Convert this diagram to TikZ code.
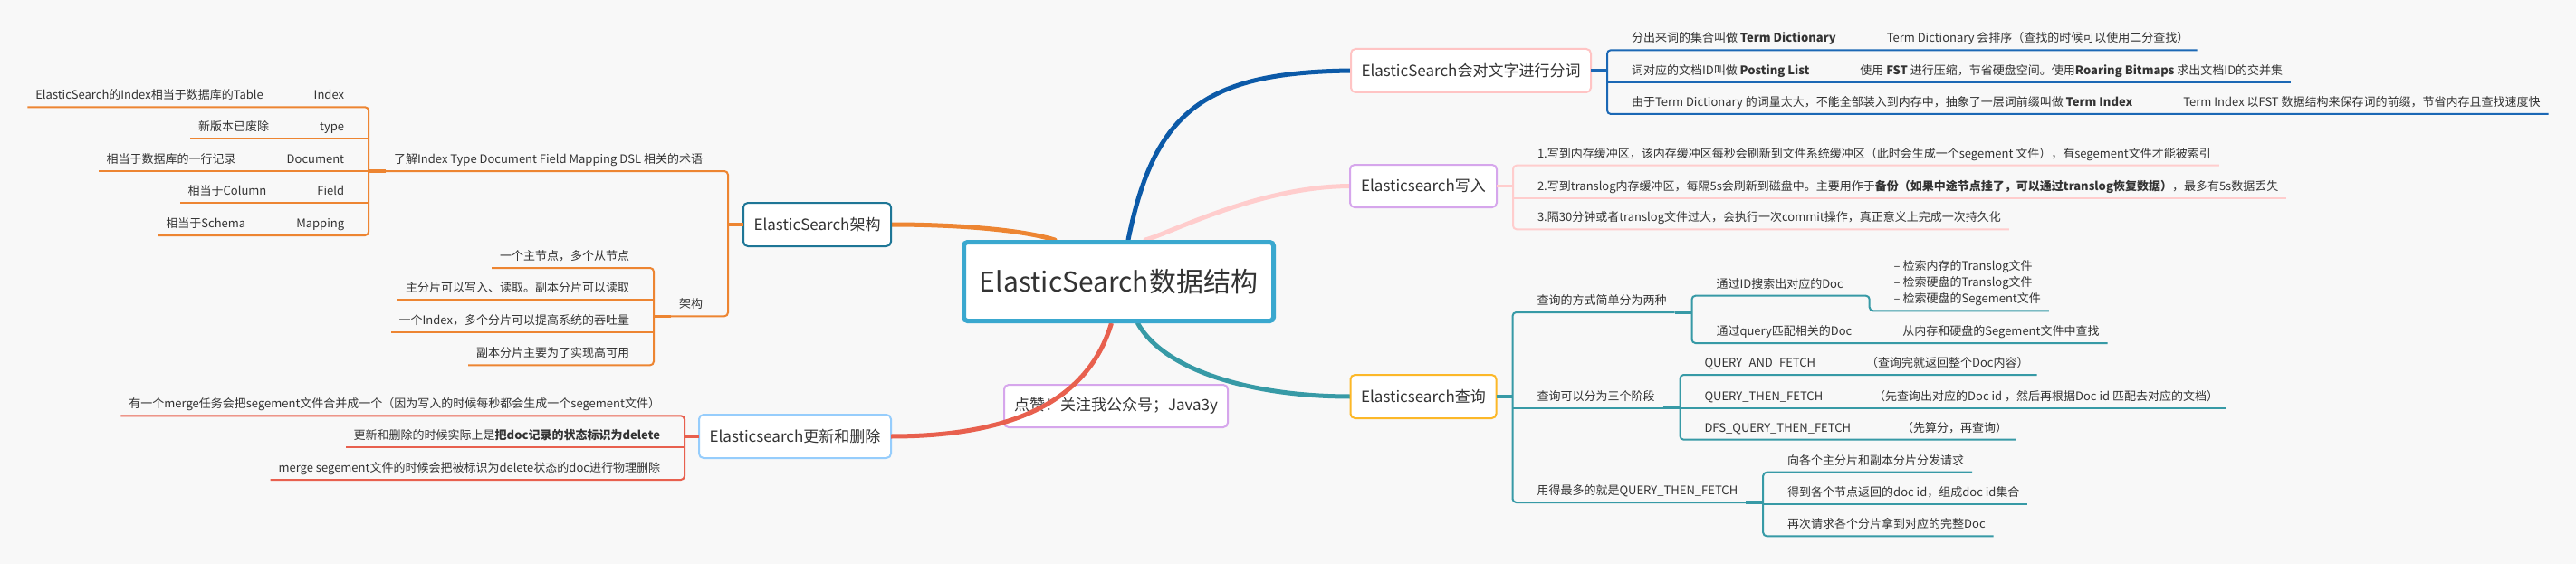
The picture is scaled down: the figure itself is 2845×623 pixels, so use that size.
\documentclass[tikz,border=0pt]{standalone}
\usepackage{fontspec}
\setmainfont{Noto Sans CJK SC}
\usetikzlibrary{calc}
\pgfdeclarelayer{back}
\pgfdeclarelayer{trunk}
\pgfdeclarelayer{over}
\pgfdeclarelayer{front}
\pgfsetlayers{back,trunk,main,over,front}
\definecolor{bgc}{RGB}{248,248,248}
\definecolor{txt}{RGB}{51,51,51}
\definecolor{cblue}{RGB}{58,168,207}
\definecolor{tblue}{RGB}{12,90,168}
\definecolor{tbr}{RGB}{27,104,181}
\definecolor{pinkc}{RGB}{255,205,205}
\definecolor{orangec}{RGB}{237,133,50}
\definecolor{tealc}{RGB}{55,154,166}
\definecolor{redc}{RGB}{232,96,78}
\definecolor{bxpink}{RGB}{255,196,196}
\definecolor{bxpurple}{RGB}{214,166,236}
\definecolor{bxteal}{RGB}{30,118,150}
\definecolor{bxyellow}{RGB}{252,184,40}
\definecolor{bxlblue}{RGB}{150,205,252}
\begin{document}
\begin{tikzpicture}[x=1pt,y=-1pt,
  leaf/.style={font=\fontsize{13}{18}\selectfont, text=txt, inner xsep=9pt, inner ysep=0pt, text height=10pt, text depth=8.5pt, outer sep=0pt},
  branch/.style={draw, line width=2pt, rounded corners=5pt, fill=white, font=\fontsize{17}{20}\selectfont, text=txt, minimum height=48pt, inner sep=0pt, outer sep=0pt},
  trunk/.style={line width=5pt, line cap=round},
  stub/.style={line width=3.5pt},
  twig/.style={line width=2pt, rounded corners=4pt},
  lw/.style={leaf, anchor=south east},
  rw/.style={leaf, anchor=south west}]
\begin{pgfonlayer}{back}
\fill[bgc] (0,0) rectangle (2845,623);
\end{pgfonlayer}
\useasboundingbox (0,0) rectangle (2845,623);

% ---------- centre ----------
\begin{pgfonlayer}{front}
\node[draw=cblue, line width=5pt, rounded corners=4pt, fill=white, minimum width=342pt, minimum height=87pt, inner sep=0pt, outer sep=2.5pt, font=\fontsize{30}{36}\selectfont, text=txt] (C) at (1235.5,311) {ElasticSearch数据结构};
\end{pgfonlayer}

% ---------- term branch ----------
\node[branch, draw=bxpink, minimum width=265pt] (T) at (1624.5,78) {ElasticSearch会对文字进行分词};
\coordinate (Tk) at ([xshift=18pt]T.east);
\node[rw] (T1) at ($(Tk |- 0,55.3)+(18,0)$) {分出来词的集合叫做 \textbf{Term Dictionary}};
\node[rw] (T1x) at ([xshift=38pt]T1.south east) {Term Dictionary 会排序（查找的时候可以使用二分查找）};
\node[rw] (T2) at ($(Tk |- 0,91)+(18,0)$) {词对应的文档ID叫做 \textbf{Posting List}};
\node[rw] (T2x) at ([xshift=38pt]T2.south east) {使用 \textbf{FST} 进行压缩，节省硬盘空间。使用\textbf{Roaring Bitmaps} 求出文档ID的交并集};
\node[rw] (T3) at ($(Tk |- 0,126)+(18,0)$) {由于Term Dictionary 的词量太大，不能全部装入到内存中，抽象了一层词前缀叫做 \textbf{Term Index}};
\node[rw] (T3x) at ([xshift=38pt]T3.south east) {Term Index 以FST 数据结构来保存词的前缀，节省内存且查找速度快};
\draw[stub, tbr] (T.east) -- (Tk);
\draw[twig, tbr] (T1x.south east) -- (Tk |- T1.south) -- (Tk |- T3.south) -- (T3x.south east);
\draw[twig, tbr] (Tk |- T2.south) -- (T2x.south east);

% ---------- write branch ----------
\node[branch, draw=bxpurple, minimum width=162pt, minimum height=47pt] (W) at (1572,205.5) {Elasticsearch写入};
\coordinate (Wk) at ([xshift=18pt]W.east);
\node[rw] (W1) at ($(Wk |- 0,182.7)+(18,0)$) {1.写到内存缓冲区，该内存缓冲区每秒会刷新到文件系统缓冲区（此时会生成一个segement 文件），有segement文件才能被索引};
\node[rw] (W2) at ($(Wk |- 0,219)+(18,0)$) {2.写到translog内存缓冲区，每隔5s会刷新到磁盘中。主要用作于\textbf{备份（如果中途节点挂了，可以通过translog恢复数据）}，最多有5s数据丢失};
\node[rw] (W3) at ($(Wk |- 0,253.3)+(18,0)$) {3.隔30分钟或者translog文件过大，会执行一次commit操作，真正意义上完成一次持久化};
\draw[stub, pinkc] (W.east) -- (Wk);
\draw[twig, pinkc] (W1.south east) -- (Wk |- W1.south) -- (Wk |- W3.south) -- (W3.south east);
\draw[twig, pinkc] (Wk |- W2.south) -- (W2.south east);

% ---------- query branch ----------
\node[branch, draw=bxyellow, minimum width=161pt] (Q) at (1572,438) {Elasticsearch查询};
\coordinate (Qk) at ([xshift=18pt]Q.east);
\node[rw] (Q1) at ($(Qk |- 0,345)+(18,0)$) {查询的方式简单分为两种};
\coordinate (Q1k) at ([xshift=19pt]Q1.south east);
\node[rw] (Q1a) at ($(Q1k |- 0,326.7)+(18,0)$) {通过ID搜索出对应的Doc};
\node[rw] (Q1ax) at ([xshift=38pt,yshift=-16.6pt]Q1a.south east) {\begin{tabular}[b]{@{}l@{}}– 检索内存的Translog文件\\– 检索硬盘的Translog文件\\– 检索硬盘的Segement文件\end{tabular}};
\node[rw] (Q1b) at ($(Q1k |- 0,379)+(18,0)$) {通过query匹配相关的Doc};
\node[rw] (Q1bx) at ([xshift=38pt]Q1b.south east) {从内存和硬盘的Segement文件中查找};
\node[rw] (Q2) at ($(Qk |- 0,450.7)+(18,0)$) {查询可以分为三个阶段};
\coordinate (Q2k) at ([xshift=19pt]Q2.south east);
\node[rw] (Q2a) at ($(Q2k |- 0,414)+(18,0)$) {QUERY\_AND\_FETCH};
\node[rw] (Q2ax) at ([xshift=38pt]Q2a.south east) {（查询完就返回整个Doc内容）};
\node[rw] (Q2b) at ($(Q2k |- 0,451)+(18,0)$) {QUERY\_THEN\_FETCH};
\node[rw] (Q2bx) at ([xshift=38pt]Q2b.south east) {（先查询出对应的Doc id ，然后再根据Doc id 匹配去对应的文档）};
\node[rw] (Q2c) at ($(Q2k |- 0,485.7)+(18,0)$) {DFS\_QUERY\_THEN\_FETCH};
\node[rw] (Q2cx) at ([xshift=38pt]Q2c.south east) {（先算分，再查询）};
\node[rw] (Q3) at ($(Qk |- 0,555)+(18,0)$) {用得最多的就是QUERY\_THEN\_FETCH};
\coordinate (Q3k) at ([xshift=19pt]Q3.south east);
\node[rw] (Q3a) at ($(Q3k |- 0,521.7)+(18,0)$) {向各个主分片和副本分片分发请求};
\node[rw] (Q3b) at ($(Q3k |- 0,556.7)+(18,0)$) {得到各个节点返回的doc id，组成doc id集合};
\node[rw] (Q3c) at ($(Q3k |- 0,592.3)+(18,0)$) {再次请求各个分片拿到对应的完整Doc};
\draw[stub, tealc] (Q.east) -- (Qk);
\draw[twig, tealc] (Q1.south east) -- (Qk |- Q1.south) -- (Qk |- Q3.south) -- (Q3.south east);
\draw[twig, tealc] (Qk |- Q2.south) -- (Q2.south east);
\draw[stub, tealc] (Q1.south east) -- (Q1k);
\draw[twig, tealc] (Q1ax.south east) -- ([xshift=-18pt]Q1ax.south west) -- ([xshift=20pt]Q1a.south east) -- (Q1k |- Q1a.south) -- (Q1k |- Q1b.south) -- (Q1bx.south east);
\draw[stub, tealc] (Q2.south east) -- (Q2k);
\draw[twig, tealc] (Q2ax.south east) -- (Q2k |- Q2a.south) -- (Q2k |- Q2c.south) -- (Q2cx.south east);
\draw[twig, tealc] (Q2k |- Q2b.south) -- (Q2bx.south east);
\draw[stub, tealc] (Q3.south east) -- (Q3k);
\draw[twig, tealc] (Q3a.south east) -- (Q3k |- Q3a.south) -- (Q3k |- Q3c.south) -- (Q3c.south east);
\draw[twig, tealc] (Q3k |- Q3b.south) -- (Q3b.south east);

% ---------- architecture branch ----------
\node[branch, draw=bxteal, minimum width=163pt] (A) at (902.5,248) {ElasticSearch架构};
\coordinate (Ak) at ([xshift=-17pt]A.west);
\node[lw] (A1) at ($(Ak |- 0,189)+(-19,0)$) {了解Index Type Document Field Mapping DSL 相关的术语};
\node[lw] (A2) at ($(Ak |- 0,349.3)+(-19,0)$) {架构};
\draw[stub, orangec] (A.west) -- (Ak);
\draw[twig, orangec] (A1.south west) -- (Ak |- A1.south) -- (Ak |- A2.south) -- (A2.south west);
\coordinate (A1k) at ([xshift=-19pt]A1.south west);
\node[lw] (I1) at ($(A1k |- 0,118.3)+(-18,0)$) {Index};
\node[lw] (I1x) at ([xshift=-38pt]I1.south west) {ElasticSearch的Index相当于数据库的Table};
\node[lw] (I2) at ($(A1k |- 0,153.3)+(-18,0)$) {type};
\node[lw] (I2x) at ([xshift=-38pt]I2.south west) {新版本已废除};
\node[lw] (I3) at ($(A1k |- 0,189)+(-18,0)$) {Document};
\node[lw] (I3x) at ([xshift=-38pt]I3.south west) {相当于数据库的一行记录};
\node[lw] (I4) at ($(A1k |- 0,224.3)+(-18,0)$) {Field};
\node[lw] (I4x) at ([xshift=-38pt]I4.south west) {相当于Column};
\node[lw] (I5) at ($(A1k |- 0,260)+(-18,0)$) {Mapping};
\node[lw] (I5x) at ([xshift=-38pt]I5.south west) {相当于Schema};
\draw[stub, orangec] (A1.south west) -- (A1k);
\draw[twig, orangec] (I1x.south west) -- (A1k |- I1.south) -- (A1k |- I5.south) -- (I5x.south west);
\draw[twig, orangec] (A1k |- I2.south) -- (I2x.south west);
\draw[twig, orangec] (A1k |- I3.south) -- (I3x.south west);
\draw[twig, orangec] (A1k |- I4.south) -- (I4x.south west);
\coordinate (A2k) at ([xshift=-19pt]A2.south west);
\node[lw] (J1) at ($(A2k |- 0,296)+(-18,0)$) {一个主节点，多个从节点};
\node[lw] (J2) at ($(A2k |- 0,331)+(-18,0)$) {主分片可以写入、读取。副本分片可以读取};
\node[lw] (J3) at ($(A2k |- 0,367.3)+(-18,0)$) {一个Index，多个分片可以提高系统的吞吐量};
\node[lw] (J4) at ($(A2k |- 0,403.3)+(-18,0)$) {副本分片主要为了实现高可用};
\draw[stub, orangec] (A2.south west) -- (A2k);
\draw[twig, orangec] (J1.south west) -- (A2k |- J1.south) -- (A2k |- J4.south) -- (J4.south west);
\draw[twig, orangec] (A2k |- J2.south) -- (J2.south west);
\draw[twig, orangec] (A2k |- J3.south) -- (J3.south west);

% ---------- update / delete branch ----------
\node[branch, draw=bxlblue, minimum width=212pt] (U) at (878,482) {Elasticsearch更新和删除};
\coordinate (Uk) at ([xshift=-16pt]U.west);
\node[lw] (U1) at ($(Uk |- 0,459.3)+(-18,0)$) {有一个merge任务会把segement文件合并成一个（因为写入的时候每秒都会生成一个segement文件）};
\node[lw] (U2) at ($(Uk |- 0,494)+(-18,0)$) {更新和删除的时候实际上是\textbf{把doc记录的状态标识为delete}};
\node[lw] (U3) at ($(Uk |- 0,530)+(-18,0)$) {merge segement文件的时候会把被标识为delete状态的doc进行物理删除};
\draw[stub, redc] (U.west) -- (Uk);
\draw[twig, redc] (U1.south west) -- (Uk |- U1.south) -- (Uk |- U3.south) -- (U3.south west);
\draw[twig, redc] (Uk |- U2.south) -- (U2.south west);

% ---------- like box ----------
\node[branch, draw=bxpurple, minimum width=247pt, minimum height=47pt] (L) at (1232.5,448.5) {点赞！关注我公众号；Java3y};

% ---------- trunks ----------
\begin{pgfonlayer}{trunk}
\draw[trunk, tblue] ([xshift=10.5pt]C.north) .. controls +(29,-143.5) and +(-160.5,2) .. (T.west);
\draw[trunk, pinkc] ([xshift=29.5pt]C.north) .. controls +(30,-8.5) and +(-100,0.5) .. (W.west);
\draw[trunk, orangec] ([xshift=-70.5pt]C.north) .. controls +(-45,-13.5) and +(54.5,0) .. (A.east);
\draw[trunk, tealc] ([xshift=21pt]C.south) .. controls +(28.5,51.5) and +(-110.5,0) .. (Q.west);
\end{pgfonlayer}
\begin{pgfonlayer}{over}
\draw[line width=5pt, redc] ([xshift=-8pt]C.south) .. controls +(-27.5,91.5) and +(125,0) .. (U.east);
\end{pgfonlayer}
\end{tikzpicture}
\end{document}
